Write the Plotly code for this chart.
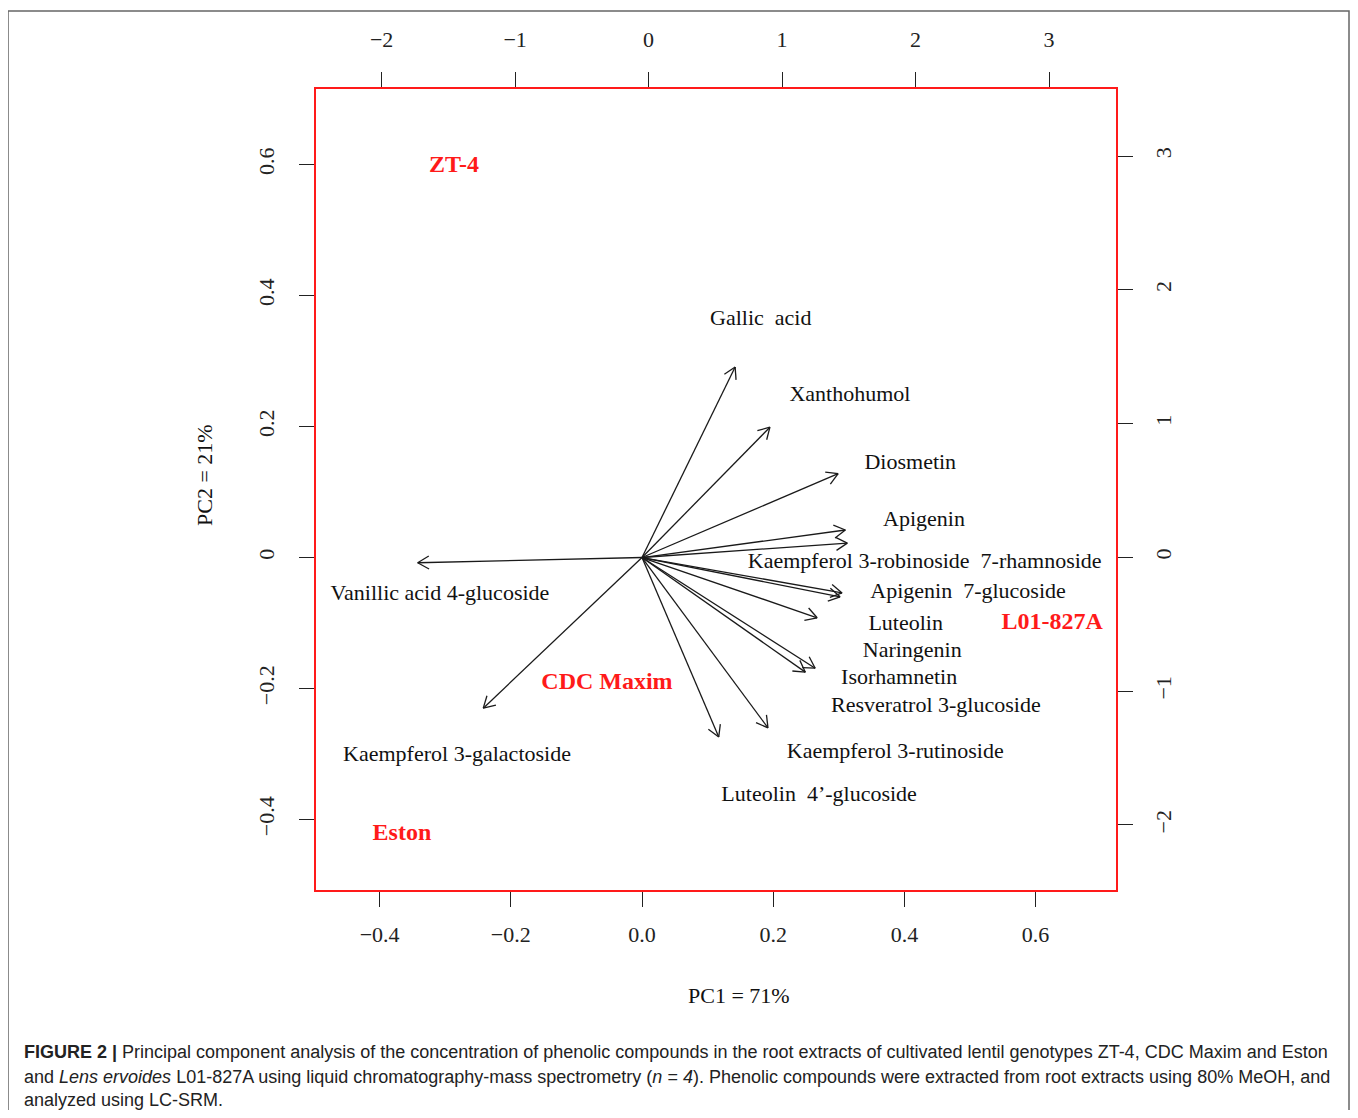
import math
import plotly.graph_objects as go

# ---------------- data ----------------
compounds = [
    "Gallic\u00a0 acid", "Xanthohumol", "Diosmetin", "Apigenin",
    "Kaempferol 3-robinoside\u00a0 7-rhamnoside", "Apigenin\u00a0 7-glucoside",
    "Resveratrol 3-glucoside", "Luteolin", "Naringenin", "Isorhamnetin",
    "Kaempferol 3-rutinoside", "Luteolin\u00a0 4\u2019-glucoside",
    "Vanillic acid 4-glucoside", "Kaempferol 3-galactoside",
]
# arrow tips (PC1 / PC2 loadings, bottom & left axes)
arrow_pc1 = [0.142, 0.195, 0.299, 0.310, 0.313, 0.305, 0.302, 0.267, 0.264, 0.249,
             0.192, 0.117, -0.342, -0.242]
arrow_pc2 = [0.291, 0.199, 0.128, 0.042, 0.022, -0.054, -0.060, -0.092, -0.169, -0.175,
             -0.260, -0.274, -0.008, -0.230]
# label positions of the compounds (bottom & left axes)
label_pc1 = [0.181, 0.317, 0.409, 0.430, 0.431, 0.497, 0.448, 0.402, 0.412, 0.392,
             0.386, 0.270, -0.308, -0.282]
label_pc2 = [0.363, 0.248, 0.144, 0.056, -0.008, -0.054, -0.228, -0.103, -0.144, -0.184,
             -0.297, -0.363, -0.056, -0.302]

genotypes = ["ZT-4", "L01-827A", "CDC\u00a0Maxim", "Eston"]
score_pc1 = [-1.458, 3.023, -0.312, -1.848]
score_pc2 = [2.925, -0.490, -0.939, -2.066]

load_ticks = [-0.4, -0.2, 0.0, 0.2, 0.4, 0.6]
load_xtext = ["\u22120.4", "\u22120.2", "0.0", "0.2", "0.4", "0.6"]
load_ytext = ["\u22120.4", "\u22120.2", "0", "0.2", "0.4", "0.6"]
score_ticks = [-2, -1, 0, 1, 2, 3]
score_text = ["\u22122", "\u22121", "0", "1", "2", "3"]

caption_lines = [
    "<b>FIGURE 2 |</b> Principal component analysis of the concentration of phenolic compounds in the root extracts of cultivated lentil genotypes ZT-4, CDC Maxim and Eston",
    "and <i>Lens ervoides</i> L01-827A using liquid chromatography-mass spectrometry (<i>n</i> = <i>4</i>). Phenolic compounds were extracted from root extracts using 80% MeOH, and",
    "analyzed using LC-SRM.",
]

# ---------------- layout geometry ----------------
OFF = 8  # browser body margin
W, H = 1358 - 2 * OFF, 1118 - 2 * OFF
L, R, T, B = 316 - OFF, 1116 - OFF, 89 - OFF, 890 - OFF
plot_w, plot_h = R - L, B - T
xr = [-0.497, 0.7226]
yr = [-0.5076, 0.7153]
x2r = [-2.492, 3.502]
y2r = [-2.486, 3.501]


def px(xp):
    return (xp - OFF - L) / plot_w


def py(yp):
    return (B - (yp - OFF)) / plot_h


SERIF = "Liberation Serif, Times New Roman, serif"
SANS = "Liberation Sans, Arial, sans-serif"
RED = "#ff1a1a"
INK = "#1a1a1a"

sx = plot_w / (xr[1] - xr[0])
sy = plot_h / (yr[1] - yr[0])
head_len = 13.0
head_ang = math.radians(30)

ax_x, ax_y = [], []
for x, y in zip(arrow_pc1, arrow_pc2):
    ax_x += [0, x, None]
    ax_y += [0, y, None]
    th = math.atan2(y * sy, x * sx)
    for s in (1, -1):
        a = th + s * head_ang
        hx = x - head_len * math.cos(a) / sx
        hy = y - head_len * math.sin(a) / sy
        ax_x += [x, hx, None]
        ax_y += [y, hy, None]

fig = go.Figure()
fig.add_trace(go.Scatter(x=ax_x, y=ax_y, mode="lines",
                         line=dict(color=INK, width=1.3), hoverinfo="skip",
                         showlegend=False))
fig.add_trace(go.Scatter(x=label_pc1, y=label_pc2, mode="text", text=compounds,
                         textposition="middle center",
                         textfont=dict(family=SERIF, size=22, color="#111111"),
                         showlegend=False))
fig.add_trace(go.Scatter(x=score_pc1, y=score_pc2, mode="text",
                         text=["<b>%s</b>" % g for g in genotypes],
                         textposition="middle center",
                         textfont=dict(family=SERIF, size=24, color=RED),
                         xaxis="x2", yaxis="y2", showlegend=False))

tickfont = dict(family=SERIF, size=22, color="#222222")
common = dict(showgrid=False, zeroline=False, showline=True, linecolor=RED,
              linewidth=1.6, ticks="outside", ticklen=15, tickwidth=1.2,
              tickcolor="#222222", tickfont=tickfont, fixedrange=True)

fig.update_layout(
    width=W, height=H,
    margin=dict(l=L, r=W - R, t=T, b=H - B, autoexpand=False),
    paper_bgcolor="white", plot_bgcolor="white",
    xaxis=dict(range=xr, tickvals=load_ticks, ticktext=load_xtext,
               ticklabelstandoff=9, **common),
    yaxis=dict(range=yr, tickvals=load_ticks, ticktext=load_ytext, tickangle=-90,
               ticklabelstandoff=16, **common),
    xaxis2=dict(range=x2r, tickvals=score_ticks, ticktext=score_text, overlaying="x",
                side="top", anchor="y", ticklabelstandoff=16, **common),
    yaxis2=dict(range=y2r, tickvals=score_ticks, ticktext=score_text, overlaying="y",
                side="right", anchor="x", tickangle=-90, ticklabelstandoff=12, **common),
)

annotations = [
    dict(text="PC1 = 71%", xref="paper", yref="paper", x=px(739), y=py(995),
         showarrow=False, xanchor="center", yanchor="middle",
         font=dict(family=SERIF, size=22, color="#111111")),
    dict(text="PC2 = 21%", xref="paper", yref="paper", x=px(205), y=py(475),
         showarrow=False, xanchor="center", yanchor="middle",
         textangle=-90, font=dict(family=SERIF, size=22, color="#111111")),
]
line_y = [1052, 1077, 1100]
for txt, ly in zip(caption_lines, line_y):
    annotations.append(dict(text=txt, xref="paper", yref="paper", x=px(22),
                            y=py(ly), showarrow=False, xanchor="left",
                            yanchor="middle", align="left",
                            font=dict(family=SANS, size=18, color="#222222")))
fig.update_layout(annotations=annotations)

# outer figure frame
fig.add_shape(type="rect", xref="paper", yref="paper",
              x0=px(8), x1=px(1349),
              y0=py(1140), y1=py(11),
              line=dict(color="#666666", width=1.5), layer="below")

fig.write_html("out.html")
